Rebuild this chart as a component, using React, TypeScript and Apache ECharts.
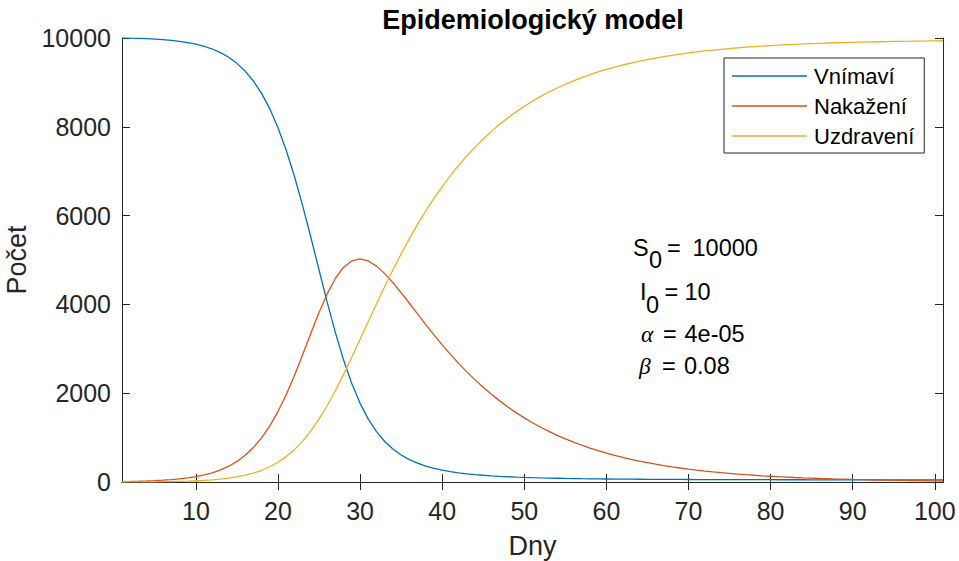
import React, { useEffect, useRef } from "react";
import * as echarts from "echarts";

const days: number[] = Array.from({ length: 101 }, (_, i) => i + 1);

const susceptible: number[] = [
  10000, 9996, 9991, 9984, 9975, 9962, 9947, 9926, 9898, 9862,
  9814, 9752, 9671, 9566, 9429, 9255, 9032, 8752, 8404, 7979,
  7473, 6886, 6226, 5513, 4775, 4045, 3359, 2742, 2212, 1771,
  1415, 1133, 913, 742, 608, 505, 423, 359, 308, 267,
  234, 207, 185, 167, 152, 139, 128, 118, 110, 103,
  97, 92, 88, 84, 80, 77, 74, 72, 70, 68,
  66, 64, 63, 62, 60, 59, 58, 58, 57, 56,
  55, 55, 54, 54, 53, 53, 53, 52, 52, 52,
  51, 51, 51, 51, 50, 50, 50, 50, 50, 50,
  50, 50, 49, 49, 49, 49, 49, 49, 49, 49, 49,
];

const infected: number[] = [
  10, 13, 17, 23, 30, 40, 53, 70, 92, 120,
  158, 208, 272, 356, 464, 601, 776, 994, 1263, 1586,
  1965, 2395, 2864, 3348, 3818, 4242, 4589, 4838, 4982, 5024,
  4978, 4862, 4693, 4489, 4263, 4026, 3785, 3546, 3313, 3089,
  2875, 2672, 2481, 2300, 2132, 1974, 1827, 1690, 1563, 1445,
  1335, 1234, 1140, 1052, 972, 897, 828, 764, 705, 651,
  601, 554, 511, 472, 435, 401, 370, 341, 315, 290,
  268, 247, 228, 210, 194, 179, 165, 152, 140, 129,
  119, 110, 101, 93, 86, 79, 73, 67, 62, 57,
  53, 49, 45, 41, 38, 35, 32, 30, 28, 25, 23,
];

const recovered: number[] = [
  0, 1, 2, 3, 5, 8, 11, 15, 20, 28,
  37, 50, 67, 89, 117, 154, 202, 264, 344, 445,
  572, 729, 921, 1150, 1417, 1723, 2062, 2429, 2816, 3215,
  3617, 4015, 4404, 4779, 5139, 5480, 5802, 6104, 6388, 6653,
  6900, 7130, 7344, 7543, 7727, 7897, 8055, 8201, 8337, 8462,
  8577, 8684, 8783, 8874, 8958, 9036, 9108, 9174, 9235, 9291,
  9343, 9392, 9436, 9477, 9514, 9549, 9581, 9611, 9638, 9664,
  9687, 9708, 9728, 9746, 9763, 9778, 9793, 9806, 9818, 9829,
  9840, 9849, 9858, 9866, 9873, 9880, 9887, 9893, 9898, 9903,
  9908, 9912, 9916, 9919, 9923, 9926, 9928, 9931, 9933, 9936, 9938,
];

const seriesNames: string[] = ["Vnímaví", "Nakažení", "Uzdravení"];
const xTicks: number[] = [10, 20, 30, 40, 50, 60, 70, 80, 90, 100];
const yTicks: number[] = [0, 2000, 4000, 6000, 8000, 10000];
const paramValues: string[] = ["10000", "10", "4e-05", "0.08"];

const FONT = "'Liberation Sans', Arial, Helvetica, sans-serif";
const SERIF = "'Liberation Serif', 'DejaVu Serif', serif";
const AX = "#262626";
const COLORS = ["#0072BD", "#D95319", "#EDB120"];

export default function App() {
  const ref = useRef<HTMLDivElement>(null);
  useEffect(() => {
    if (!ref.current) return;
    const chart = echarts.init(ref.current, undefined, { renderer: "svg" });
    const pair = (arr: number[]) => arr.map((v, i) => [days[i], v]);
    const tickStyle = { show: true, inside: true, length: 8, lineStyle: { color: AX, width: 1 } };
    const lineStyleAx = { show: true, lineStyle: { color: AX, width: 1 } };
    const FS = 23.5;
    const mid = 0.35 * FS;
    const t = (x: number, baseline: number, text: string, extra: any = {}) => ({
      type: "text",
      x,
      y: baseline - mid,
      style: { fontFamily: FONT, fontSize: FS, fill: "#000", text, verticalAlign: "middle", ...extra },
    });
    const greek = { fontFamily: SERIF, fontStyle: "italic" };
    const option: any = {
      animation: false,
      backgroundColor: "#fff",
      title: {
        text: "Epidemiologický model",
        left: 533,
        top: 6.5,
        textAlign: "center",
        padding: 0,
        textStyle: { fontFamily: FONT, fontSize: 27, fontWeight: "bold", color: "#000" },
      },
      grid: { left: 122, top: 38, right: 16, bottom: 79, containLabel: false, outerBoundsMode: "none" },
      legend: {
        orient: "vertical",
        left: 724,
        top: 58,
        padding: [7, 10, 6, 8],
        itemGap: 8,
        itemWidth: 75,
        itemHeight: 1.5,
        icon: "rect",
        backgroundColor: "#fff",
        borderColor: AX,
        borderWidth: 1,
        borderRadius: 0,
        data: seriesNames,
        textStyle: { fontFamily: FONT, fontSize: 22, color: "#000", padding: [0, 0, 0, 2] },
      },
      xAxis: [
        {
          type: "value",
          min: 1,
          max: 101,
          name: "Dny",
          nameLocation: "middle",
          nameGap: 50,
          nameTextStyle: { fontFamily: FONT, fontSize: 27, color: AX },
          axisLine: lineStyleAx,
          axisTick: { ...tickStyle, customValues: xTicks },
          axisLabel: {
            customValues: xTicks,
            margin: 16.5,
            fontFamily: FONT,
            fontSize: 25,
            color: AX,
            formatter: (v: number) => String(v),
          },
          splitLine: { show: false },
        },
        {
          type: "value",
          min: 1,
          max: 101,
          position: "top",
          axisLine: lineStyleAx,
          axisTick: { ...tickStyle, customValues: xTicks },
          axisLabel: { show: false },
          splitLine: { show: false },
        },
      ],
      yAxis: [
        {
          type: "value",
          min: 0,
          max: 10000,
          interval: 2000,
          name: "Počet",
          nameLocation: "middle",
          nameGap: 86,
          nameTextStyle: { fontFamily: FONT, fontSize: 27, color: AX },
          axisLine: lineStyleAx,
          axisTick: { ...tickStyle, customValues: yTicks },
          axisLabel: {
            customValues: yTicks,
            margin: 11,
            fontFamily: FONT,
            fontSize: 25,
            color: AX,
            formatter: (v: number) => String(v),
          },
          splitLine: { show: false },
        },
        {
          type: "value",
          min: 0,
          max: 10000,
          interval: 2000,
          position: "right",
          axisLine: lineStyleAx,
          axisTick: { ...tickStyle, customValues: yTicks },
          axisLabel: { show: false },
          splitLine: { show: false },
        },
      ],
      series: [susceptible, infected, recovered].map((arr, i) => ({
        name: seriesNames[i],
        type: "line",
        xAxisIndex: 0,
        yAxisIndex: 0,
        data: pair(arr),
        symbol: "none",
        showSymbol: false,
        smooth: false,
        color: COLORS[i],
        lineStyle: { color: COLORS[i], width: 1.3 },
      })),
      graphic: [
        t(633, 256, "S"),
        t(649, 268, "0"),
        t(667, 256, "="),
        t(692.5, 256, paramValues[0]),
        t(640, 300, "I"),
        t(646, 313, "0"),
        t(664.5, 300, "="),
        t(684.5, 300, paramValues[1]),
        t(641, 342, "α", greek),
        t(663, 342, "="),
        t(684.5, 342, paramValues[2]),
        t(639, 374, "β", greek),
        t(662, 374, "="),
        t(684, 374, paramValues[3]),
      ],
    };
    chart.setOption(option);
    return () => chart.dispose();
  }, []);
  return <div ref={ref} style={{ width: 959, height: 561, position: "absolute", left: 0, top: 0 }} />;
}
